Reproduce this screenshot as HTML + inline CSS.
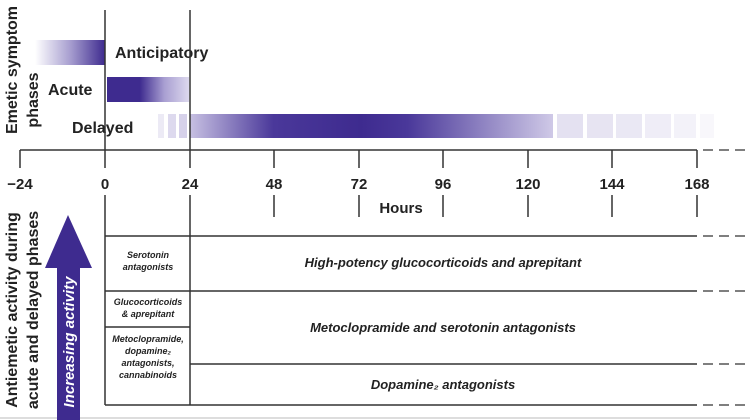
<!DOCTYPE html>
<html><head><style>
body{margin:0;background:#fff}
svg{display:block}
text{font-family:"Liberation Sans",sans-serif;fill:#222}
</style></head><body>
<svg width="750" height="420" viewBox="0 0 750 420" xmlns="http://www.w3.org/2000/svg">
<defs>
<linearGradient id="ga" x1="0" x2="1"><stop offset="0" stop-color="#fff"/><stop offset="0.5" stop-color="#a89fd0"/><stop offset="1" stop-color="#3e2b8f"/></linearGradient>
<linearGradient id="gb" x1="0" x2="1"><stop offset="0" stop-color="#3e2b8f"/><stop offset="0.4" stop-color="#3e2b8f"/><stop offset="0.7" stop-color="#a99fd2"/><stop offset="1" stop-color="#ddd9ee"/></linearGradient>
<linearGradient id="gc" gradientUnits="userSpaceOnUse" x1="190" x2="553"><stop offset="0" stop-color="#c7c0e2"/><stop offset="0.23" stop-color="#4a389a"/><stop offset="0.47" stop-color="#3e2b8f"/><stop offset="0.6" stop-color="#4a389a"/><stop offset="1" stop-color="#cfc9e7"/></linearGradient>
</defs>
<rect x="35" y="40" width="70" height="25" fill="url(#ga)"/>
<rect x="107" y="77" width="82" height="25" fill="url(#gb)"/>
<rect x="158" y="114" width="6" height="24" fill="#eceaf5"/>
<rect x="168" y="114" width="8" height="24" fill="#ddd9ee"/>
<rect x="179" y="114" width="8" height="24" fill="#d6d1ea"/>
<rect x="190" y="114" width="363" height="24" fill="url(#gc)"/>
<rect x="557" y="114" width="26" height="24" fill="#e4e1f1"/>
<rect x="587" y="114" width="26" height="24" fill="#e7e4f2"/>
<rect x="616" y="114" width="26" height="24" fill="#eae8f4"/>
<rect x="645" y="114" width="26" height="24" fill="#efedf7"/>
<rect x="674" y="114" width="22" height="24" fill="#f3f2f9"/>
<rect x="700" y="114" width="14" height="24" fill="#f8f7fb"/>
<text x="115" y="58" font-size="16" font-weight="bold">Anticipatory</text>
<text x="48" y="95" font-size="16" font-weight="bold">Acute</text>
<text x="72" y="133" font-size="16" font-weight="bold">Delayed</text>
<g stroke="#333" stroke-width="1.5" fill="none">
<line x1="20" y1="150" x2="697" y2="150"/>
<line x1="105" y1="10" x2="105" y2="168"/>
<line x1="190" y1="10" x2="190" y2="168"/>
<line x1="190" y1="195" x2="190" y2="405"/>
<line x1="20" y1="150" x2="20" y2="168"/>
<line x1="274" y1="150" x2="274" y2="168"/><line x1="359" y1="150" x2="359" y2="168"/>
<line x1="443" y1="150" x2="443" y2="168"/><line x1="528" y1="150" x2="528" y2="168"/>
<line x1="612" y1="150" x2="612" y2="168"/><line x1="697" y1="150" x2="697" y2="168"/>
<line x1="105" y1="195" x2="105" y2="405"/>
<line x1="274" y1="195" x2="274" y2="217"/><line x1="359" y1="195" x2="359" y2="217"/>
<line x1="443" y1="195" x2="443" y2="217"/><line x1="528" y1="195" x2="528" y2="217"/>
<line x1="612" y1="195" x2="612" y2="217"/><line x1="697" y1="195" x2="697" y2="217"/>
<line x1="105" y1="236" x2="697" y2="236"/>
<line x1="105" y1="291" x2="697" y2="291"/>
<line x1="105" y1="327" x2="190" y2="327"/>
<line x1="190" y1="364" x2="697" y2="364"/>
<line x1="105" y1="405" x2="697" y2="405"/>
</g>
<g stroke="#333" stroke-width="1.2" stroke-dasharray="10,6">
<line x1="703" y1="150" x2="750" y2="150"/>
<line x1="703" y1="236" x2="750" y2="236"/>
<line x1="703" y1="291" x2="750" y2="291"/>
<line x1="703" y1="364" x2="750" y2="364"/>
<line x1="703" y1="405" x2="750" y2="405"/>
</g>
<line x1="0" y1="418" x2="750" y2="418" stroke="#bbb"/>
<g font-size="15" font-weight="bold" text-anchor="middle">
<text x="20" y="189">−24</text><text x="105" y="189">0</text><text x="190" y="189">24</text>
<text x="274" y="189">48</text><text x="359" y="189">72</text><text x="443" y="189">96</text>
<text x="528" y="189">120</text><text x="612" y="189">144</text><text x="697" y="189">168</text>
</g>
<text x="401" y="213" font-size="15" font-weight="bold" text-anchor="middle">Hours</text>
<g font-size="16" font-weight="bold" text-anchor="middle">
<text transform="translate(17,70) rotate(-90)">Emetic symptom</text>
<text transform="translate(38,100) rotate(-90)">phases</text>
<text transform="translate(17,310) rotate(-90)">Antiemetic activity during</text>
<text transform="translate(38,310) rotate(-90)">acute and delayed phases</text>
</g>
<rect x="57" y="266" width="23" height="154" fill="#3e2b8f"/>
<polygon points="68,215 45,268 92,268" fill="#3e2b8f"/>
<text transform="translate(74,342) rotate(-90)" font-size="15" font-weight="bold" font-style="italic" text-anchor="middle" style="fill:#fff">Increasing activity</text>
<g font-size="9" font-weight="bold" font-style="italic" text-anchor="middle">
<text x="148" y="258">Serotonin</text><text x="148" y="270">antagonists</text>
<text x="148" y="305">Glucocorticoids</text><text x="148" y="317">&amp; aprepitant</text>
<text x="148" y="342">Metoclopramide,</text><text x="148" y="354">dopamine₂</text>
<text x="148" y="366">antagonists,</text><text x="148" y="378">cannabinoids</text>
</g>
<g font-size="13" font-weight="bold" font-style="italic" text-anchor="middle">
<text x="443" y="267">High-potency glucocorticoids and aprepitant</text>
<text x="443" y="332">Metoclopramide and serotonin antagonists</text>
<text x="443" y="389">Dopamine₂ antagonists</text>
</g>
</svg>
</body></html>
